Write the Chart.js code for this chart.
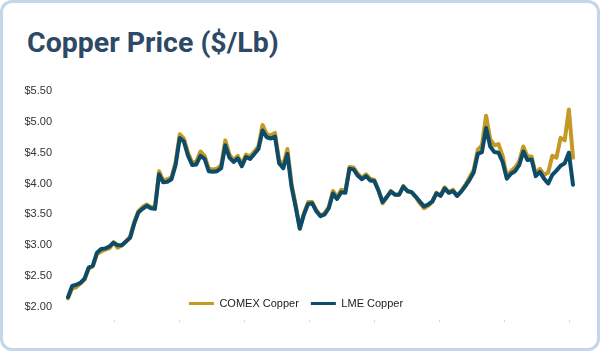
<!DOCTYPE html>
<html>
<head>
<meta charset="utf-8">
<script src="https://cdn.jsdelivr.net/npm/chart.js@4.4.1/dist/chart.umd.min.js"></script>
<style>
  html, body { margin: 0; padding: 0; background: #ffffff; }
  body { width: 600px; height: 351px; position: relative; overflow: hidden; }
  .card {
    position: absolute; left: 0; top: 0; width: 600px; height: 351px;
    box-sizing: border-box; border: 3.5px solid #c5d6e8; border-radius: 12px;
    background: #ffffff;
  }
  .title {
    position: absolute; left: 27px; top: 29px; margin: 0;
    font-family: Roboto, "Noto Sans", sans-serif; font-weight: 700;
    font-size: 28.5px; line-height: 28px; color: #2d4966; white-space: nowrap;
  }
  .chart-box { position: absolute; left: 0; top: 0; width: 600px; height: 351px; }
</style>
</head>
<body>
<div class="card"></div>
<h1 class="title">Copper Price ($/Lb)</h1>
<div class="chart-box"><canvas id="c"></canvas></div>
<script>
// ---- data ----
const dates = [
  '2020-03-16',
  '2020-04-01','2020-04-16','2020-05-01','2020-05-16','2020-06-01','2020-06-16','2020-07-01','2020-07-16','2020-08-01','2020-08-16','2020-09-01','2020-09-16','2020-10-01','2020-10-16','2020-11-01','2020-11-16','2020-12-01','2020-12-16',
  '2021-01-01','2021-01-16','2021-02-01','2021-02-16','2021-03-01','2021-03-16','2021-04-01','2021-04-16','2021-05-01','2021-05-16','2021-06-01','2021-06-16','2021-07-01','2021-07-16','2021-08-01','2021-08-16','2021-09-01','2021-09-16','2021-10-01','2021-10-16','2021-11-01','2021-11-16','2021-12-01','2021-12-16',
  '2022-01-01','2022-01-16','2022-02-01','2022-02-16','2022-03-01','2022-03-16','2022-04-01','2022-04-16','2022-05-01','2022-05-16','2022-06-01','2022-06-16','2022-07-01','2022-07-16','2022-08-01','2022-08-16','2022-09-01','2022-09-16','2022-10-01','2022-10-16','2022-11-01','2022-11-16','2022-12-01','2022-12-16',
  '2023-01-01','2023-01-16','2023-02-01','2023-02-16','2023-03-01','2023-03-16','2023-04-01','2023-04-16','2023-05-01','2023-05-16','2023-06-01','2023-06-16','2023-07-01','2023-07-16','2023-08-01','2023-08-16','2023-09-01','2023-09-16','2023-10-01','2023-10-16','2023-11-01','2023-11-16','2023-12-01','2023-12-16',
  '2024-01-01','2024-01-16','2024-02-01','2024-02-16','2024-03-01','2024-03-16','2024-04-01','2024-04-16','2024-05-01','2024-05-16','2024-06-01','2024-06-16','2024-07-01','2024-07-16','2024-08-01','2024-08-16','2024-09-01','2024-09-16','2024-10-01','2024-10-16','2024-11-01','2024-11-16','2024-12-01','2024-12-16',
  '2025-01-01','2025-01-16','2025-02-01','2025-02-16','2025-03-01','2025-03-16','2025-04-01','2025-04-07'
];

const comexCopper = [
  2.14, 2.30, 2.32, 2.38, 2.44, 2.62, 2.66, 2.86, 2.90, 2.93,
  2.95, 3.05, 2.96, 3.00, 3.06, 3.14, 3.38, 3.55, 3.62, 3.66,
  3.62, 3.62, 4.20, 4.05, 4.07, 4.10, 4.35, 4.80, 4.73, 4.50,
  4.34, 4.36, 4.52, 4.45, 4.24, 4.23, 4.24, 4.30, 4.70, 4.47,
  4.38, 4.45, 4.32, 4.47, 4.44, 4.52, 4.60, 4.95, 4.80, 4.78,
  4.82, 4.38, 4.30, 4.56, 4.00, 3.66, 3.27, 3.52, 3.70, 3.70,
  3.57, 3.48, 3.52, 3.62, 3.88, 3.78, 3.90, 3.88, 4.27, 4.26,
  4.16, 4.09, 4.15, 4.08, 4.06, 3.89, 3.68, 3.78, 3.88, 3.82,
  3.82, 3.96, 3.87, 3.86, 3.78, 3.68, 3.60, 3.64, 3.70, 3.85,
  3.81, 3.94, 3.86, 3.90, 3.80, 3.88, 3.98, 4.10, 4.22, 4.55,
  4.62, 5.10, 4.72, 4.62, 4.64, 4.45, 4.12, 4.20, 4.26, 4.36,
  4.60, 4.44, 4.44, 4.15, 4.24, 4.14, 4.18, 4.45, 4.42, 4.74,
  4.70, 5.20, 4.42
];

const lmeCopper = [
  2.16, 2.34, 2.36, 2.39, 2.46, 2.64, 2.67, 2.88, 2.94, 2.95,
  2.98, 3.04, 3.00, 3.00, 3.06, 3.12, 3.35, 3.53, 3.59, 3.64,
  3.60, 3.59, 4.15, 4.02, 4.03, 4.07, 4.30, 4.74, 4.68, 4.45,
  4.30, 4.31, 4.45, 4.40, 4.20, 4.19, 4.20, 4.25, 4.62, 4.42,
  4.35, 4.41, 4.28, 4.43, 4.40, 4.48, 4.56, 4.86, 4.75, 4.73,
  4.76, 4.33, 4.25, 4.48, 3.95, 3.62, 3.27, 3.50, 3.67, 3.68,
  3.55, 3.47, 3.50, 3.60, 3.84, 3.75, 3.86, 3.85, 4.24, 4.23,
  4.13, 4.07, 4.12, 4.05, 4.04, 3.89, 3.70, 3.78, 3.87, 3.82,
  3.82, 3.95, 3.88, 3.86, 3.79, 3.71, 3.63, 3.66, 3.71, 3.84,
  3.80, 3.92, 3.85, 3.88, 3.80, 3.87, 3.96, 4.06, 4.18, 4.48,
  4.51, 4.90, 4.60, 4.51, 4.50, 4.35, 4.08, 4.16, 4.20, 4.30,
  4.52, 4.38, 4.39, 4.12, 4.19, 4.08, 4.00, 4.14, 4.21, 4.29,
  4.33, 4.50, 3.98
];

const yTickValues = [2.0, 2.5, 3.0, 3.5, 4.0, 4.5, 5.0, 5.5];
const xTickMarks = [1, 2, 3, 4, 5, 6, 7, 8];

// ---- styling / layout ----
const COMEX_COLOR = '#c49a25';
const LME_COLOR = '#0c4b69';
const LEGEND_TOP = 286;
const LEGEND_SHIFT = -4;

const legendInChartArea = {
  id: 'legendInChartArea',
  beforeLayout(chart) {
    const lg = chart.legend;
    if (lg && !lg.__patched) {
      const origFit = lg.fit.bind(lg);
      lg.fit = function () { origFit(); this.__h = this.height; this.height = 0; };
      lg.__patched = true;
    }
  },
  afterLayout(chart) {
    const lg = chart.legend;
    if (!lg) return;
    lg.height = lg.__h || 0;
    lg.top = LEGEND_TOP;
    lg.bottom = LEGEND_TOP + lg.height;
    lg.left = LEGEND_SHIFT;
    lg.right = chart.width + LEGEND_SHIFT;
  }
};

new Chart(document.getElementById('c'), {
  type: 'line',
  data: {
    labels: dates,
    datasets: [
      {
        label: 'COMEX Copper', data: comexCopper,
        borderColor: COMEX_COLOR, backgroundColor: COMEX_COLOR,
        borderWidth: 4, pointRadius: 0, tension: 0, order: 1,
        pointStyle: 'line', borderJoinStyle: 'round', borderCapStyle: 'round'
      },
      {
        label: 'LME Copper', data: lmeCopper,
        borderColor: LME_COLOR, backgroundColor: LME_COLOR,
        borderWidth: 4, pointRadius: 0, tension: 0, order: 0,
        pointStyle: 'line', borderJoinStyle: 'round', borderCapStyle: 'round'
      }
    ]
  },
  options: {
    responsive: true,
    maintainAspectRatio: false,
    animation: false,
    events: [],
    layout: { padding: { top: 91, right: 27, bottom: 29, left: 0 } },
    plugins: {
      title: { display: false },
      tooltip: { enabled: false },
      legend: {
        display: true,
        position: 'bottom',
        align: 'center',
        labels: {
          usePointStyle: true,
          pointStyleWidth: 25,
          boxHeight: 11,
          padding: 12,
          color: '#222222',
          font: { family: "'Liberation Sans', Arial, sans-serif", size: 11 },
          sort: (a, b) => a.datasetIndex - b.datasetIndex,
          generateLabels: (chart) => Chart.defaults.plugins.legend.labels.generateLabels(chart).map(l => ({ ...l, lineWidth: 3 }))
        }
      }
    },
    scales: {
      x: { type: 'category', display: false },
      x2: {
        type: 'linear', axis: 'x', position: 'bottom',
        min: 0.2923, max: 8.0615,
        afterBuildTicks: (s) => { s.ticks = xTickMarks.map(v => ({ value: v })); },
        ticks: { display: false },
        grid: { drawOnChartArea: false, drawTicks: true, tickLength: 2, color: '#d6d6d6' },
        border: { display: false }
      },
      y: {
        type: 'linear', position: 'left',
        min: 1.789, max: 5.5,
        afterBuildTicks: (s) => { s.ticks = yTickValues.map(v => ({ value: v })); },
        afterFit: (s) => { s.width = 68; },
        ticks: {
          padding: 8,
          color: '#333333',
          font: { family: "'Liberation Sans', Arial, sans-serif", size: 11 },
          callback: (v) => '$' + Number(v).toFixed(2)
        },
        grid: { display: false },
        border: { display: false }
      }
    }
  },
  plugins: [legendInChartArea]
});
</script>
</body>
</html>
